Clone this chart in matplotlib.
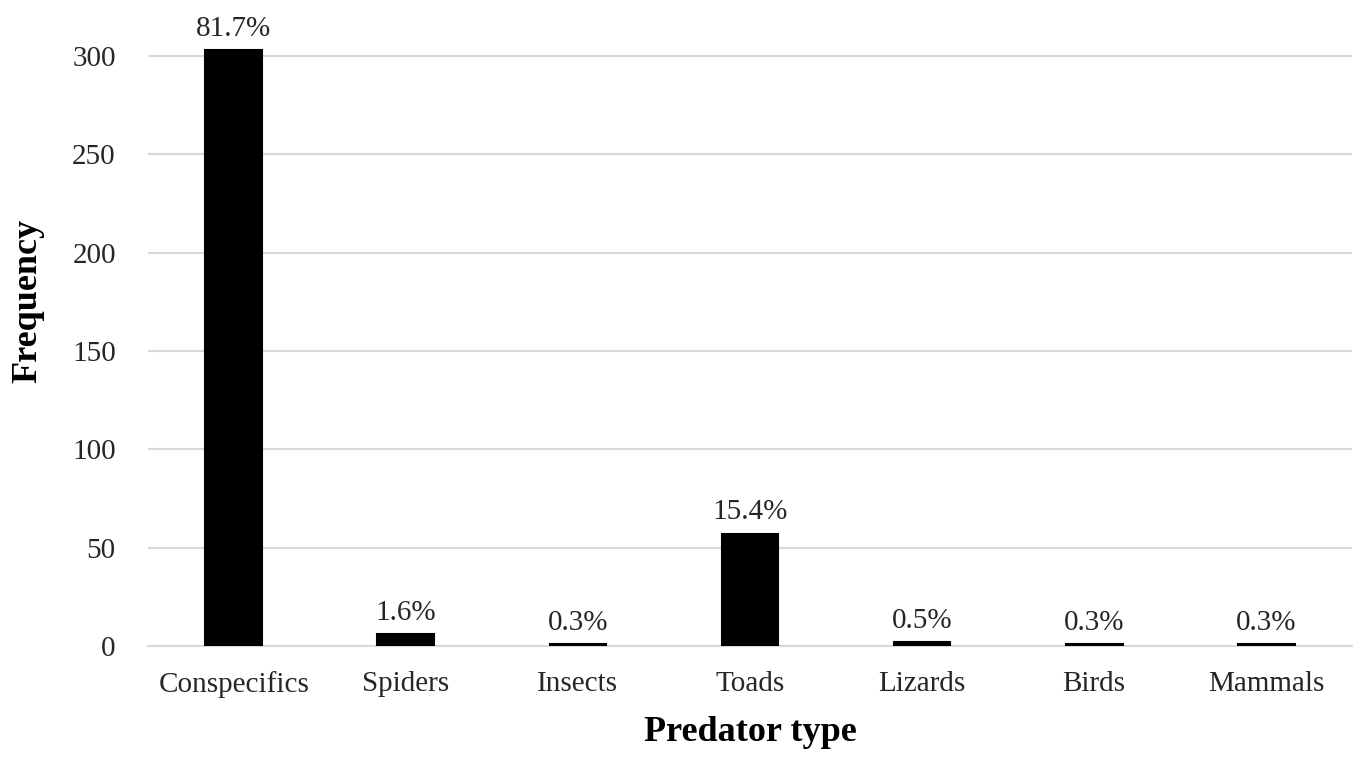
import matplotlib.pyplot as plt

# Data
predators = ['Conspecifics', 'Spiders', 'Insects', 'Toads', 'Lizards', 'Birds', 'Mammals']
counts = [303, 6, 1, 57, 2, 1, 1]
pct_labels = ['81.7%', '1.6%', '0.3%', '15.4%', '0.5%', '0.3%', '0.3%']
y_ticks = [0, 50, 100, 150, 200, 250, 300]

plt.rcParams['font.family'] = ['Liberation Serif', 'DejaVu Serif']

fig = plt.figure(figsize=(13.55, 7.58), dpi=100)
ax = fig.add_axes([0.109, 0.148, 0.889, 0.791])

x = range(len(predators))
bars = ax.bar(x, counts, width=0.33, color='black', edgecolor='black', linewidth=1.5, zorder=3)

for i, b in enumerate(bars):
    ax.annotate(pct_labels[i], (b.get_x() + b.get_width() / 2, b.get_height()),
                xytext=(0, 6), textcoords='offset points',
                ha='center', va='bottom', fontsize=21, color='#262626')

ax.set_xlim(-0.5, len(predators) - 0.5)
ax.set_ylim(0, 305)
ax.set_yticks(y_ticks)
ax.set_xticks(list(x))
ax.set_xticklabels(predators)
ax.tick_params(axis='both', length=0, labelsize=21, colors='#262626')
ax.tick_params(axis='x', pad=18)
ax.tick_params(axis='y', pad=23)
ax.grid(axis='y', color='#d9d9d9', linewidth=1.5, zorder=0)
for s in ['top', 'right', 'left']:
    ax.spines[s].set_visible(False)
ax.spines['bottom'].set_color('#d9d9d9')
ax.spines['bottom'].set_linewidth(1.5)

ax.set_xlabel('Predator type', fontsize=26, fontweight='bold', labelpad=13)
ax.set_ylabel('Frequency', fontsize=26, fontweight='bold')
ax.yaxis.set_label_coords(-0.086, 0.575)

fig.savefig('out.png', dpi=100)
